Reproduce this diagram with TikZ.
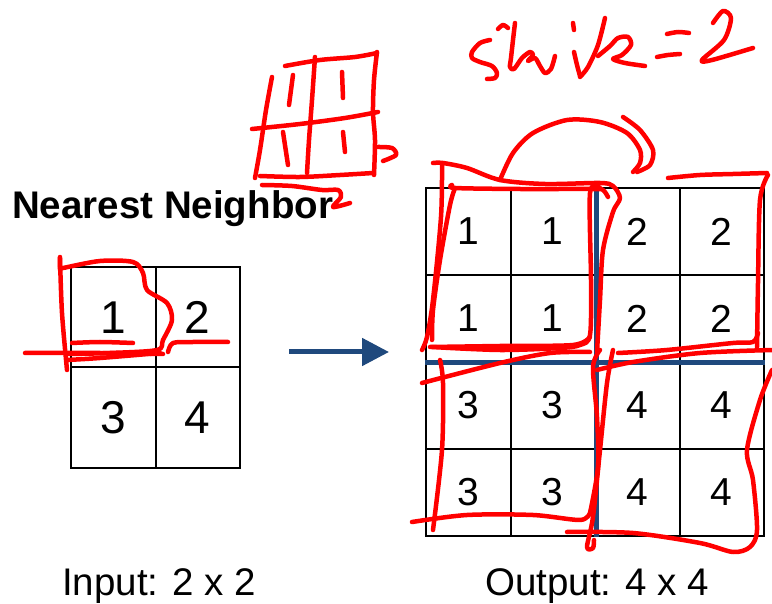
\documentclass[tikz,border=0pt]{standalone}
\usepackage{fontspec}
\setmainfont{Liberation Sans}
\usetikzlibrary{arrows.meta}
\definecolor{navy}{RGB}{31,73,125}
\definecolor{pen}{RGB}{255,0,0}
\tikzset{
  incell/.style={draw=black, line width=2pt, minimum width=84.5pt, minimum height=100pt, inner sep=0pt, font=\fontsize{46}{48}\selectfont},
  outcell/.style={draw=black, line width=2pt, minimum width=84.5pt, minimum height=87pt, inner sep=0pt, font=\fontsize{39}{40}\selectfont},
  label/.style={anchor=base west, inner sep=0pt, font=\fontsize{38.5}{40}\selectfont},
  divider/.style={draw=navy, line width=5pt},
  flow/.style={draw=navy, line width=5pt, -{Triangle[length=27pt,width=27pt]}},
  ink/.style={draw=pen, line width=4.5pt, line cap=round, line join=round},
}
\begin{document}
\begin{tikzpicture}[x=1pt,y=-1pt]
\useasboundingbox[fill=white] (0,0) rectangle (772,604);
% title and labels
\node[label, font=\fontsize{38.5}{40}\selectfont\bfseries] (title) at (12,219) {Nearest Neighbor};
\node[label] (inlab) at (62,595) {Input: 2 x 2};
\node[label] (outlab) at (485,595) {Output: 4 x 4};
% input grid
\node[incell] (i11) at (113.25,317.5) {1};
\node[incell] (i12) at (197.75,317.5) {2};
\node[incell] (i21) at (113.25,417.5) {3};
\node[incell] (i22) at (197.75,417.5) {4};
% output grid
\foreach \r/\y/\a/\b in {1/231.5/1/2, 2/318.5/1/2, 3/405.5/3/4, 4/492.5/3/4}{
  \node[outcell] (o\r1) at (468.25,\y) {\a};
  \node[outcell] (o\r2) at (552.75,\y) {\a};
  \node[outcell] (o\r3) at (637.25,\y) {\b};
  \node[outcell] (o\r4) at (721.75,\y) {\b};
}
\draw[divider] (o12.north east) -- (o42.south east);
\draw[divider] (o21.south west) -- (o24.south east);
% arrow
\coordinate (as) at (289,352);
\coordinate (ae) at (389,352);
\draw[flow] (as) -- (ae);
% ---- red handwriting ----
% small grid sketch
\draw[ink] plot[smooth] coordinates {(285,66) (320,60) (355,57) (377,53)};
\draw[ink] plot[smooth] coordinates {(377,52) (374,80) (373,112) (375,140) (374,175)};
\draw[ink] plot[smooth] coordinates {(272,77) (266,110) (260,150) (255,178)};
\draw[ink] plot[smooth] coordinates {(315,57) (312,100) (309,140) (307,173)};
\draw[ink] plot[smooth] coordinates {(252,129) (300,124) (345,118) (378,112)};
\draw[ink] plot[smooth] coordinates {(260,176) (300,177) (340,175) (373,173)};
\draw[ink] plot[smooth] coordinates {(378,147) (392,148) (396,155) (383,161)};
\draw[ink] (293,75) -- (289,105);
\draw[ink] (342,72) -- (343,98);
\draw[ink] (283,132) -- (288,165);
\draw[ink] (343,132) -- (345,152);
\draw[ink] plot[smooth] coordinates {(262,185) (292,186) (322,190) (338,190) (341,197) (333,207) (350,203)};
% slide = 2
\draw[ink] plot[smooth] coordinates {(498,29) (503,25) (508,28)};
\draw[ink] plot[smooth] coordinates {(490,40) (480,43) (472,52) (472,58) (480,62) (492,66) (497,73) (495,78) (487,79)};
\draw[ink] plot[smooth] coordinates {(515,23) (513,40) (511,58) (510,67) (514,69) (522,58) (530,52) (533,55) (528,61) (535,58) (540,66) (545,73) (551,69) (555,56)};
\draw[ink] (573,23) -- (574,30);
\draw[ink] plot[smooth] coordinates {(574,52) (577,65) (580,76)};
\draw[ink] plot[smooth] coordinates {(605,18) (598,45) (588,67) (580,77)};
\draw[ink] plot[smooth] coordinates {(598,56) (610,46) (618,38) (628,37) (631,45) (622,55) (613,59) (625,63) (645,66)};
\draw[ink] plot[smooth] coordinates {(667,34) (678,32) (689,33)};
\draw[ink] plot[smooth] coordinates {(657,57) (668,55) (680,54)};
\draw[ink] plot[smooth] coordinates {(713,23) (723,11) (731,18) (724,40) (702,60) (712,60) (753,48)};
% input grid annotation
\draw[ink] plot[smooth] coordinates {(60,257) (60,268) (63,268) (100,261) (133,262) (143,273) (147,290) (167,303) (172,320) (163,340) (157,350) (110,353) (67,354)};
\draw[ink] plot[smooth] coordinates {(60,258) (62,313) (67,370)};
\draw[ink] plot[smooth] coordinates {(72,343) (100,342) (133,343)};
\draw[ink] plot[smooth] coordinates {(25,353) (100,353) (163,354)};
\draw[ink] plot[smooth] coordinates {(67,360) (100,358) (160,353)};
\draw[ink] plot[smooth] coordinates {(168,352) (173,343) (193,342) (228,342)};
% output grid annotation: top-left
\draw[ink] plot[smooth] coordinates {(433,163) (443,163) (467,168) (500,180) (545,184) (600,183) (613,186) (620,198) (613,212) (603,250) (600,300) (597,352)};
\draw[ink] plot[smooth] coordinates {(442,165) (441,217) (433,300) (427,337) (422,350)};
\draw[ink] plot[smooth] coordinates {(452,185) (455,188) (520,189) (593,189) (603,190) (608,197)};
\draw[ink] plot[smooth] coordinates {(455,188) (450,205) (440,260) (433,310) (432,340)};
\draw[ink] plot[smooth] coordinates {(432,347) (500,350) (560,348) (580,345) (590,335) (591,280) (590,193) (600,188)};
\draw[ink] plot[smooth] coordinates {(430,347) (500,346) (573,345) (590,337)};
% hump
\draw[ink] plot[smooth] coordinates {(500,180) (513,153) (533,133) (567,120) (600,122) (627,133) (640,150) (640,163) (633,172)};
\draw[ink] plot[smooth] coordinates {(623,117) (640,130) (653,150) (650,165) (637,172)};
% top-right
\draw[ink] plot[smooth] coordinates {(668,178) (700,175) (733,174) (767,173)};
\draw[ink] plot[smooth] coordinates {(768,175) (760,200) (758,283) (757,347)};
\draw[ink] plot[smooth] coordinates {(618,353) (667,350) (733,343) (753,342) (758,333)};
% bottom-left
\draw[ink] plot[smooth] coordinates {(422,383) (500,363) (550,353) (590,352)};
\draw[ink] plot[smooth] coordinates {(440,360) (443,383) (442,450) (433,530)};
\draw[ink] plot[smooth] coordinates {(412,522) (467,515) (533,515) (580,520) (590,513)};
\draw[ink] plot[smooth] coordinates {(590,513) (598,467) (597,417) (593,367) (600,350)};
% bottom-right
\draw[ink] plot[smooth] coordinates {(597,370) (633,362) (700,353) (772,350)};
\draw[ink] plot[smooth] coordinates {(613,350) (607,383) (600,450) (593,517) (587,547) (593,548) (594,540)};
\draw[ink] plot[smooth] coordinates {(567,532) (633,533) (700,543) (733,552) (750,547) (757,530) (753,480) (747,450) (760,400) (772,370)};
\end{tikzpicture}
\end{document}
